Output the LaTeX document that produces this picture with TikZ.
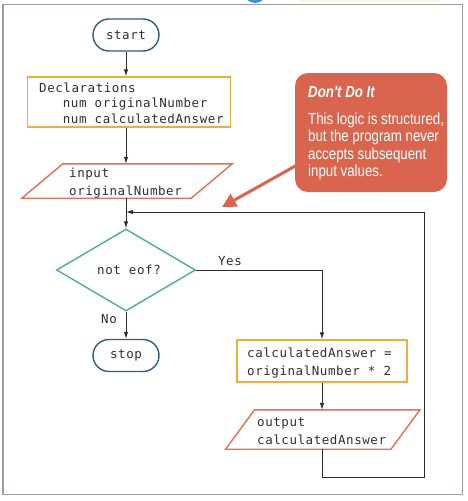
\documentclass[tikz,border=0pt]{standalone}
\usepackage{fontspec}
\setmainfont{Liberation Sans}
\newfontfamily\monofnt[LetterSpace=4.5]{DejaVu Sans Mono}
\newfontfamily\callfnt[FakeStretch=0.83]{Liberation Sans}
\usetikzlibrary{shapes.geometric,arrows.meta}
\definecolor{termc}{HTML}{2C5F7A}
\definecolor{procc}{HTML}{F0AC3C}
\definecolor{ioc}{HTML}{E0705A}
\definecolor{decc}{HTML}{4FA8A5}
\definecolor{txtc}{HTML}{2E2E2E}
\definecolor{notec}{HTML}{DA654F}
\definecolor{framec}{HTML}{A39A99}
\definecolor{linec}{HTML}{2A2A2A}
\definecolor{fragy}{HTML}{FBF4E0}
\definecolor{fragb}{HTML}{3E8FD8}
\tikzset{
  term/.style={draw=termc, line width=1.4pt, rounded corners=16pt, minimum width=66pt, minimum height=32pt, inner sep=0pt, font=\monofnt\fontsize{12.5}{14}\selectfont, text=txtc},
  procbox/.style={draw=procc, line width=1.4pt, inner sep=0pt},
  iobox/.style={draw=none, inner sep=0pt},
  iopath/.style={draw=ioc, line width=1.4pt, line join=miter},
  decbox/.style={diamond, draw=decc, line width=1.4pt, inner sep=0pt, minimum width=139pt, minimum height=82pt, font=\monofnt\fontsize{12.5}{14}\selectfont, text=txtc},
  codetext/.style={inner sep=0pt, anchor=west, align=left, text=txtc},
  lbl/.style={inner sep=0pt, font=\monofnt\fontsize{12.5}{14}\selectfont, text=txtc},
  arr/.style={-{Latex[length=7pt,width=4.5pt]}, line width=0.9pt, draw=linec},
  notetext/.style={inner sep=0pt, anchor=west, align=left, text=white}
}
\begin{document}
\begin{tikzpicture}[x=1pt,y=-1pt]
\useasboundingbox (0,0) rectangle (467,501);
% fragments at the top edge
\fill[fragy] (300,0) rectangle (440,2);
\fill[fragb] (255,-9) circle (12);
% frame
\draw[framec, line width=1.8pt] (3,4.5) rectangle (462.5,494.5);

% terminals
\node[term] (start) at (126,35) {start};
\node[term] (stop) at (126,355.5) {stop};

% declarations
\node[procbox, minimum width=203pt, minimum height=50pt] (decl) at (129,102) {};
\node[codetext, font=\monofnt\fontsize{12.5}{15.5}\selectfont] (decltxt) at (39,103)
  {Declarations\\\phantom{num}num originalNumber\\\phantom{num}num calculatedAnswer};

% input
\node[iobox, minimum width=169pt, minimum height=34pt] (inp) at (127,181) {};
\draw[iopath] ([xshift=20.5pt]inp.north west) -- ([xshift=20.5pt]inp.north east)
  -- ([xshift=-20.5pt]inp.south east) -- ([xshift=-20.5pt]inp.south west) -- cycle;
\node[codetext, font=\monofnt\fontsize{12.5}{18}\selectfont] (inptxt) at (69,183)
  {input\\originalNumber};

% decision
\node[decbox] (dia) at (126,270) {\hspace*{6pt}not eof?};

% calculation
\node[procbox, minimum width=170pt, minimum height=42pt] (calc) at (322,361) {};
\node[codetext, font=\monofnt\fontsize{12.5}{18.5}\selectfont] (calctxt) at (247,363)
  {calculatedAnswer =\\originalNumber * 2};

% output
\node[iobox, minimum width=165pt, minimum height=39pt] (outp) at (322.75,429.5) {};
\draw[iopath] ([xshift=14.5pt]outp.north west) -- ([xshift=14.5pt]outp.north east)
  -- ([xshift=-14.5pt]outp.south east) -- ([xshift=-14.5pt]outp.south west) -- cycle;
\node[codetext, font=\monofnt\fontsize{12.5}{18}\selectfont] (outtxt) at (257,431)
  {output\\calculatedAnswer};

% connectors
\coordinate (jn) at (126,212);
\coordinate (lc1) at (424,477);
\coordinate (lc2) at (424,212);
\draw[arr] (start.south) -- (start.south |- decl.north);
\draw[arr] (start.south |- decl.south) -- (start.south |- inp.north);
\draw[arr] (start.south |- inp.south) -- (dia.north);
\draw[arr] (dia.south) -- (stop.north);
\draw[arr] (dia.east) -| (calc.north);
\draw[arr] (calc.south) -- (calc.south |- outp.north);
\draw[arr] (outp.south) |- (lc1) -- (lc2) -- (jn);

\node[lbl] (yes) at (230,261) {Yes};
\node[lbl] (no) at (109,319) {No};

% callout
\coordinate (cst) at (315,155);
\coordinate (ctip) at (222,207);
\draw[notec, line width=3pt, -{Triangle[length=14pt,width=14pt]}] (cst) -- (ctip);
\node[fill=notec, draw=none, rounded corners=13pt, minimum width=152pt, minimum height=119pt, inner sep=0pt] (note) at (371,132.5) {};
\node[notetext, font=\callfnt\fontsize{16}{17}\selectfont\bfseries\itshape] (notetitle) at (308,92) {Don't Do It};
\node[notetext, font=\callfnt\fontsize{16}{17.3}\selectfont] (notebody) at (308,146.5)
  {This logic is structured,\\but the program never\\accepts subsequent\\input values.};
\end{tikzpicture}
\end{document}
